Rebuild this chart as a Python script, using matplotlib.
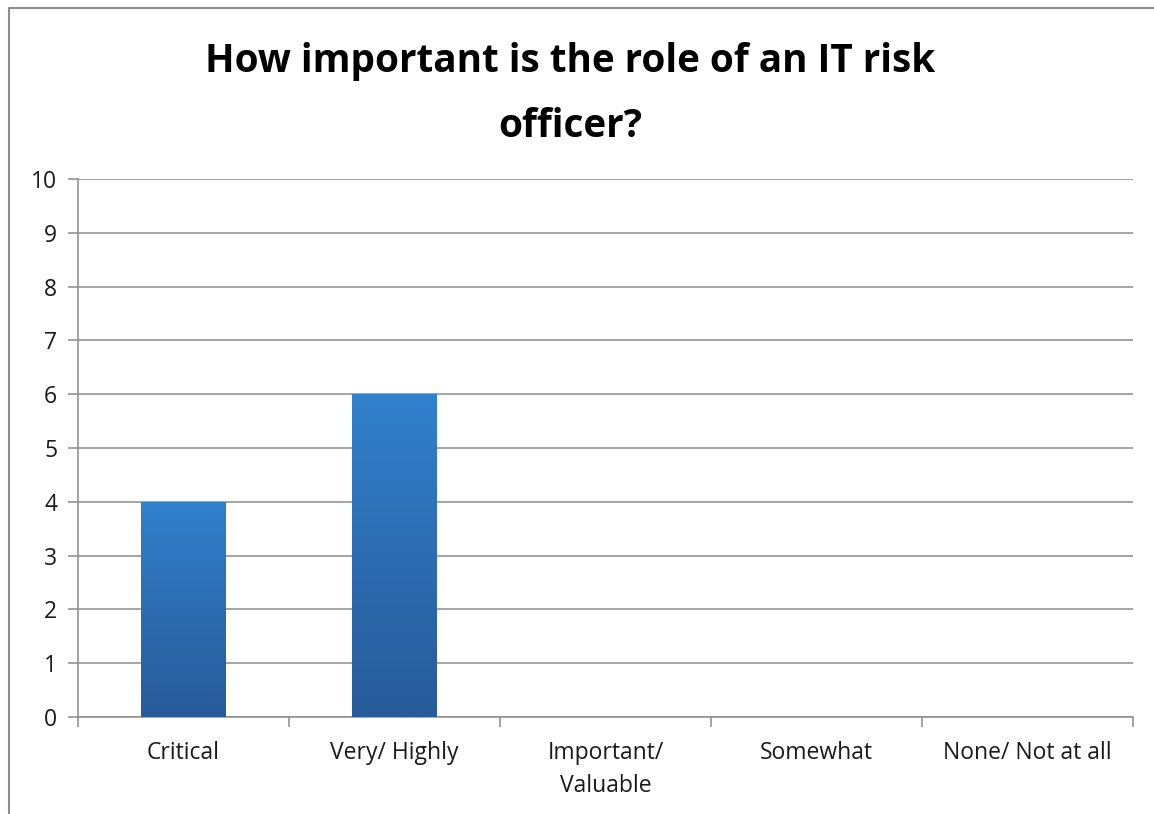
import matplotlib.pyplot as plt
import numpy as np
from matplotlib.colors import LinearSegmentedColormap
from matplotlib.lines import Line2D

categories = ['Critical', 'Very/ Highly', 'Important/\nValuable', 'Somewhat', 'None/ Not at all']
responses = [4, 6, 0, 0, 0]
title = 'How important is the role of an IT risk\nofficer?'

plt.rcParams['font.family'] = ['Open Sans', 'DejaVu Sans']

fig = plt.figure(figsize=(11.54, 8.14), dpi=100)
ax = fig.add_axes([78 / 1154, 1 - 717 / 814, (1133 - 78) / 1154, (717 - 179) / 814])

x = np.arange(len(categories))
bars = ax.bar(x, responses, width=0.4, color='none', edgecolor='none', zorder=3)

# vertical blue gradient for each bar, lighter at the top
grad = LinearSegmentedColormap.from_list('bar', ['#275b9a', '#2d6cb2', '#3181cd'])
g = np.linspace(0, 1, 256).reshape(-1, 1)
for b in bars:
    h = b.get_height()
    if h <= 0:
        continue
    x0 = b.get_x()
    w = b.get_width()
    im = ax.imshow(g, cmap=grad, aspect='auto', origin='lower',
                   extent=[x0, x0 + w, 0, h], zorder=3)
    im.set_clip_path(b)

ax.set_xlim(-0.5, len(categories) - 0.5)
ax.set_ylim(0, 10)
ax.set_yticks(range(0, 11))
ax.yaxis.grid(True, color='#8c8c8c', linewidth=1.1, zorder=0)
ax.set_axisbelow(True)

for s in ['top', 'right']:
    ax.spines[s].set_visible(False)
ax.spines['left'].set_color('#8c8c8c')
ax.spines['bottom'].set_color('#8c8c8c')
ax.spines['left'].set_linewidth(1.1)
ax.spines['bottom'].set_linewidth(1.1)

ax.set_xticks(x)
ax.set_xticklabels(categories, fontsize=16.5, color='#1a1a1a', linespacing=1.5)
ax.tick_params(axis='x', length=0, pad=17)
ax.set_xticks(np.arange(-0.5, len(categories)), minor=True)
ax.tick_params(axis='x', which='minor', length=7, color='#8c8c8c', width=1.1)
ax.tick_params(axis='y', length=7, color='#8c8c8c', width=1.1, labelsize=16.5,
               labelcolor='#1a1a1a', pad=8)

fig.text(0.494, 1 - 94 / 814, title, ha='center', va='center', fontsize=27.8,
         fontweight='bold', linespacing=1.85)

# outer chart frame (left and top edges)
fig.add_artist(Line2D([9 / 1154, 9 / 1154, 1.0], [0.0, 1 - 8 / 814, 1 - 8 / 814],
                      transform=fig.transFigure, color='#8c8c8c', linewidth=1.5))

fig.savefig('out.png', dpi=100)
